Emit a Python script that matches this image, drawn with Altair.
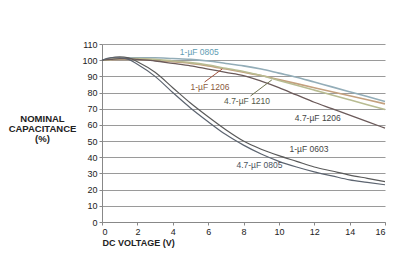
import altair as alt
import pandas as pd

# DC bias curves: capacitance (% of nominal) vs DC voltage
volts = [0, 0.5, 1, 1.5, 2, 3, 4, 5, 6, 7, 8, 9, 10, 11, 12, 13, 14, 15, 16]

c_1u_0805 = [100, 100.5, 101, 101.5, 101.5, 101.5, 101, 100.5, 99.5, 98, 96.5, 94.5, 92, 89.5, 86.5, 83.5, 80.5, 77.5, 74.5]
c_1u_1206 = [100, 100.3, 100.5, 100.5, 100.5, 100, 99, 98, 96.5, 94.5, 92.5, 90.5, 88, 85.5, 83, 80.5, 78, 75.5, 73]
c_47u_1210 = [100, 100.5, 101, 101, 101, 100.5, 99.5, 98.5, 97, 95, 93, 90.5, 87.5, 84.5, 81.5, 78.5, 75.5, 72.5, 69.5]
c_47u_1206 = [100, 100.5, 101, 101, 100.5, 99.5, 98, 96.5, 94.5, 92.5, 90.5, 87, 83, 78.5, 74, 70, 66, 62, 58]
c_1u_0603 = [100, 101.5, 102, 101.5, 99, 92.5, 83, 73.5, 65, 57, 50, 45, 41, 37.5, 34, 31.5, 29, 27, 25]
c_47u_0805 = [100, 101.5, 101.5, 100.5, 97.5, 90, 80, 70.5, 62, 54, 47.5, 42, 37.5, 34, 31, 28.5, 26, 24.5, 23]

series = [
    ("1-µF 0805", c_1u_0805, "#93adb8", 1.6),
    ("1-µF 1206", c_1u_1206, "#c4a07e", 1.6),
    ("4.7-µF 1210", c_47u_1210, "#b8bc92", 1.6),
    ("4.7-µF 1206", c_47u_1206, "#6b5a5a", 1.3),
    ("1-µF 0603", c_1u_0603, "#5a5a5a", 1.2),
    ("4.7-µF 0805", c_47u_0805, "#5c6470", 1.2),
]

# Curve labels: text, start voltage, value, colour
label_text = ["1-µF 0805", "1-µF 1206", "4.7-µF 1210", "4.7-µF 1206", "1-µF 0603", "4.7-µF 0805"]
label_v = [4.4, 5.0, 6.9, 10.9, 10.6, 7.6]
label_c = [105, 83.5, 75, 64, 45, 35]
label_color = ["#5f9db3", "#8a5a3e", "#555a48", "#444444", "#444444", "#4a5360"]

# Leader lines from labels to their curves
lead_v = [5.8, 8.4]
lead_c = [86.5, 77.9]
lead_v2 = [6.8, 9.6]
lead_c2 = [94.6, 87.8]
lead_color = ["#a0503a", "#6f7450"]

x_ticks = [0, 2, 4, 6, 8, 10, 12, 14, 16]
y_ticks = [0, 10, 20, 30, 40, 50, 60, 70, 80, 90, 100, 110]

x_scale = alt.Scale(domain=[0, 16], nice=False)
y_scale = alt.Scale(domain=[0, 110], nice=False)

x_axis = alt.Axis(
    values=x_ticks, grid=False, tickSize=3, tickColor="#888",
    domainColor="#888", labelFont="Liberation Sans", labelFontSize=9,
    labelColor="#222", labelPadding=2, labelOverlap=False,
    title="DC VOLTAGE (V)", titleFont="Liberation Sans", titleFontSize=9,
    titleFontWeight="bold", titleColor="#222", titleAnchor="start",
    titleAlign="left", titleX=0, titleY=23, titleBaseline="alphabetic",
)
y_axis = alt.Axis(
    values=y_ticks, grid=True, gridColor="#9a9a9a",
    gridWidth=1.1, tickSize=3, tickColor="#888", domainColor="#888",
    labelFont="Liberation Sans", labelFontSize=9, labelColor="#222",
    labelPadding=2, labelOverlap=False,
    title=["NOMINAL", "CAPACITANCE", "(%)"], titleFont="Liberation Sans",
    titleFontSize=9.5, titleFontWeight="bold", titleColor="#222",
    titleAngle=0, titleAlign="center", titleX=-60, titleY=77,
    titleBaseline="alphabetic", titleLineHeight=10,
)

X = lambda f: alt.X(f, scale=x_scale, axis=x_axis)
Y = lambda f: alt.Y(f, scale=y_scale, axis=y_axis)

layers = []
for name, vals, color, w in series:
    sub = pd.DataFrame({"v": volts, "c": vals})
    layers.append(
        alt.Chart(sub).mark_line(color=color, strokeWidth=w, interpolate="monotone").encode(
            x=X("v:Q"), y=Y("c:Q")
        )
    )

lead_df = pd.DataFrame({"v": lead_v, "c": lead_c, "v2": lead_v2, "c2": lead_c2, "col": lead_color})
layers.append(
    alt.Chart(lead_df).mark_rule(strokeWidth=1).encode(
        x=X("v:Q"), y=Y("c:Q"), x2="v2:Q", y2="c2:Q",
        color=alt.Color("col:N", scale=None),
    )
)

lab_df = pd.DataFrame({"t": label_text, "v": label_v, "c": label_c, "col": label_color})
layers.append(
    alt.Chart(lab_df).mark_text(
        align="left", baseline="middle", font="Liberation Sans", fontSize=8.5
    ).encode(
        x=X("v:Q"), y=Y("c:Q"),
        text="t:N", color=alt.Color("col:N", scale=None),
    )
)

chart = alt.layer(*layers).properties(
    width=283, height=178,
    autosize=alt.AutoSizeParams(type="none"),
    padding={"left": 102, "top": 44, "right": 16, "bottom": 37},
    background="white",
).configure_view(stroke=None)

chart.save("out.html", embed_options={"renderer": "svg", "actions": False})
